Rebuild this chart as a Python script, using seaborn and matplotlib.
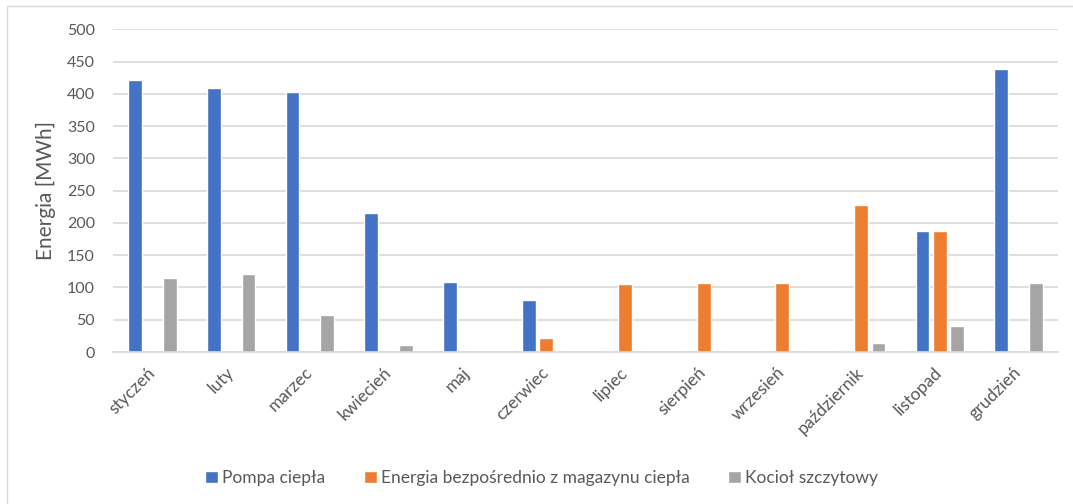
import matplotlib
matplotlib.use("Agg")
import matplotlib.pyplot as plt
from matplotlib.lines import Line2D
import pandas as pd
import seaborn as sns

months = ["styczeń", "luty", "marzec", "kwiecień", "maj", "czerwiec",
          "lipiec", "sierpień", "wrzesień", "październik", "listopad", "grudzień"]
series_names = ["Pompa ciepła", "Energia bezpośrednio z magazynu ciepła", "Kocioł szczytowy"]
pompa = [421, 409, 403, 215, 108, 81, 2, 0, 0, 2, 188, 438]
magazyn = [0, 0, 0, 0, 0, 22, 105, 107, 107, 228, 188, 0]
kociol = [115, 121, 57, 11, 0, 0, 0, 0, 0, 14, 41, 107]
colors = ["#4472C4", "#ED7D31", "#A5A5A5"]

text_color = "#595959"
grid_color = "#D9D9D9"

df = pd.DataFrame({
    "miesiac": months * 3,
    "seria": [series_names[0]] * 12 + [series_names[1]] * 12 + [series_names[2]] * 12,
    "energia": pompa + magazyn + kociol,
})

sns.set_theme(style="white")
plt.rcParams["font.family"] = ["Lato", "DejaVu Sans"]

W, H = 1073, 504
fig = plt.figure(figsize=(W / 100, H / 100), dpi=100)
ax = fig.add_axes([113 / W, 1 - 352 / H, (1058 - 113) / W, (352 - 29.3) / H])

sns.barplot(data=df, x="miesiac", y="energia", hue="seria", order=months,
            hue_order=series_names, palette=colors, width=0.66, gap=0.2,
            saturation=1, ax=ax, legend=True)

ax.set_ylim(0, 500)
ax.set_yticks(range(0, 501, 50))
ax.set_xlim(-0.5, 11.5)
ax.yaxis.grid(True, color=grid_color, linewidth=1.2)
ax.set_axisbelow(True)
for side in ["left", "right", "top"]:
    ax.spines[side].set_visible(False)
ax.spines["bottom"].set_color(grid_color)
ax.spines["bottom"].set_linewidth(1.2)
ax.tick_params(axis="both", length=0, colors=text_color)
ax.tick_params(axis="y", pad=13, labelsize=11.5)
ax.tick_params(axis="x", pad=13, labelsize=12.5)
plt.setp(ax.get_xticklabels(), rotation=45, ha="right", va="center",
         rotation_mode="anchor")
ax.set_xlabel("")
ax.set_ylabel("Energia [MWh]", color=text_color, fontsize=15, labelpad=8)

handles, labels = ax.get_legend_handles_labels()
ax.get_legend().remove()
fig.legend(handles, labels, loc="center", bbox_to_anchor=(541.5 / W, 1 - 478 / H),
           ncol=3, frameon=False, fontsize=12.5, labelcolor=text_color,
           handlelength=0.75, handleheight=0.75, handletextpad=0.25,
           columnspacing=2.2)

# chart frame (top and left edges)
fig.add_artist(Line2D([7 / W, 7 / W], [0, 1 - 6 / H], transform=fig.transFigure,
                      color=grid_color, linewidth=1))
fig.add_artist(Line2D([7 / W, 1], [1 - 6 / H, 1 - 6 / H], transform=fig.transFigure,
                      color=grid_color, linewidth=1))

fig.savefig("out.png", dpi=100)
